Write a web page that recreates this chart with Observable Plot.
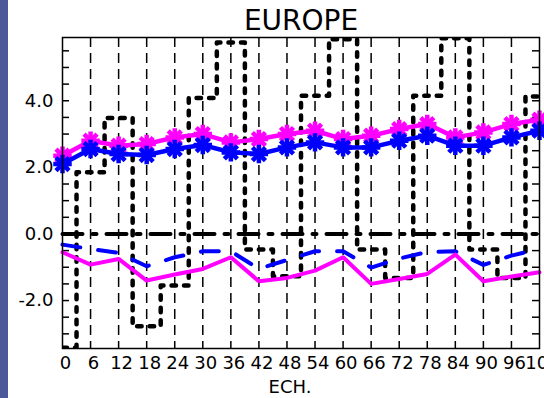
<!DOCTYPE html>
<html><head><meta charset="utf-8">
<script src="https://cdn.jsdelivr.net/npm/d3@7"></script>
<script src="https://cdn.jsdelivr.net/npm/@observablehq/plot@0.6"></script>
<style>
html,body{margin:0;padding:0;background:#fff;overflow:hidden;}
#wrap{position:relative;width:544px;height:398px;overflow:hidden;}
#strip{position:absolute;left:0;top:0;width:8px;height:398px;background:#4b5899;}
</style></head><body>
<div id="wrap"><div id="chart"></div><div id="strip"></div></div>
<script>
// Forecast range (ECH., hours)
const ech = [0,6,12,18,24,30,36,42,48,54,60,66,72,78,84,90,96,102];
const xTickLabels = [0,6,12,18,24,30,36,42,48,54,60,66,72,78,84,90,96,102];
const xGrid = [6,12,18,24,30,36,42,48,54,60,66,72,78,84,90,96];
const yTickLabels = [-2,0,2,4];
const yMinorTicks = [-3,-2.5,-2,-1.5,-1,-0.5,0,0.5,1,1.5,2,2.5,3,3.5,4,4.5,5,5.5];

// Series
const dottedSeries = [-3.42,1.85,3.48,-2.77,-1.55,4.08,5.75,-0.47,-1.27,4.15,5.85,-0.47,-1.32,4.15,5.88,-0.47,-1.32,4.13];
const zeroSeries   = [0,0,0,0,0,0,0,0,0,0,0,0,0,0,0,0,0,0];
const blueLow      = [-0.32,-0.45,-0.57,-0.97,-0.70,-0.52,-0.52,-1.05,-0.78,-0.52,-0.52,-1.01,-0.74,-0.54,-0.52,-0.93,-0.65,-0.45];
const magentaLow   = [-0.55,-0.92,-0.75,-1.40,-1.22,-1.05,-0.70,-1.42,-1.32,-1.10,-0.70,-1.50,-1.35,-1.20,-0.62,-1.42,-1.28,-1.15];
const magentaUp    = [2.35,2.80,2.65,2.70,2.90,3.00,2.75,2.85,3.00,3.10,2.85,2.95,3.15,3.30,2.90,3.05,3.30,3.43];
const blueUp       = [2.10,2.55,2.40,2.37,2.55,2.67,2.45,2.40,2.60,2.75,2.60,2.60,2.80,2.95,2.65,2.65,2.90,3.10];

const rows = ech.map((t, i) => ({
  t, dotted: dottedSeries[i], zero: zeroSeries[i], blueLow: blueLow[i],
  magLow: magentaLow[i], magUp: magentaUp[i], blueUp: blueUp[i]
}));

const W = 544, H = 398, mL = 62, mR = 5, mT = 37, mB = 50;
const innerW = W - mL - mR;
const MAG = "#ff00ff", BLU = "#0000ff";

const chart = Plot.plot({
  width: W, height: H,
  marginLeft: mL, marginRight: mR, marginTop: mT, marginBottom: mB,
  style: {fontFamily: "DejaVu Sans", fontSize: "18px", color: "black", background: "white"},
  x: {domain: [0, 102]},
  y: {domain: [-3.44, 5.9]},
  marks: [
    Plot.ruleX(xGrid, {stroke: "black", strokeWidth: 1.5, strokeDasharray: "10,6"}),
    Plot.tickY(yMinorTicks, {y: d => d, stroke: "black", strokeWidth: 1.5, insetRight: innerW - 7}),
    Plot.tickY(yMinorTicks, {y: d => d, stroke: "black", strokeWidth: 1.5, insetLeft: innerW - 7}),
    Plot.line(rows, {x: "t", y: "dotted", curve: "step", stroke: "black", strokeWidth: 4.5, strokeDasharray: "4.5,8", clip: true}),
    Plot.line(rows, {x: "t", y: "zero", stroke: "black", strokeWidth: 4, strokeDasharray: "20,10,4,10"}),
    Plot.line(rows, {x: "t", y: "blueLow", stroke: BLU, strokeWidth: 4, strokeDasharray: "18,18"}),
    Plot.line(rows, {x: "t", y: "magLow", stroke: MAG, strokeWidth: 4}),
    Plot.line(rows, {x: "t", y: "magUp", stroke: MAG, strokeWidth: 4.5}),
    Plot.dot(rows, {x: "t", y: "magUp", symbol: "plus", r: 6, stroke: MAG, strokeWidth: 4.5}),
    Plot.dot(rows, {x: "t", y: "magUp", symbol: "times", r: 6, stroke: MAG, strokeWidth: 4.5}),
    Plot.line(rows, {x: "t", y: "blueUp", stroke: BLU, strokeWidth: 4.5}),
    Plot.dot(rows, {x: "t", y: "blueUp", symbol: "plus", r: 6, stroke: BLU, strokeWidth: 4.5}),
    Plot.dot(rows, {x: "t", y: "blueUp", symbol: "times", r: 6, stroke: BLU, strokeWidth: 4.5}),
    Plot.frame({stroke: "black", strokeWidth: 1.5}),
    Plot.axisY(yTickLabels, {tickSize: 0, tickPadding: 9, tickFormat: d => d.toFixed(1), fontSize: 18, label: null}),
    Plot.axisX(xTickLabels, {tickSize: 0, tickPadding: 8, tickFormat: d => String(d), dx: 3, fontSize: 18, label: null}),
    Plot.text(["EUROPE"], {text: d => d, frameAnchor: "top", dy: -16, fontSize: 28, lineAnchor: "middle"}),
    Plot.text(["ECH."], {text: d => d, frameAnchor: "bottom", dy: 39, dx: -11, fontSize: 18, lineAnchor: "middle"})
  ]
});
document.getElementById("chart").appendChild(chart);
</script>
</body></html>
